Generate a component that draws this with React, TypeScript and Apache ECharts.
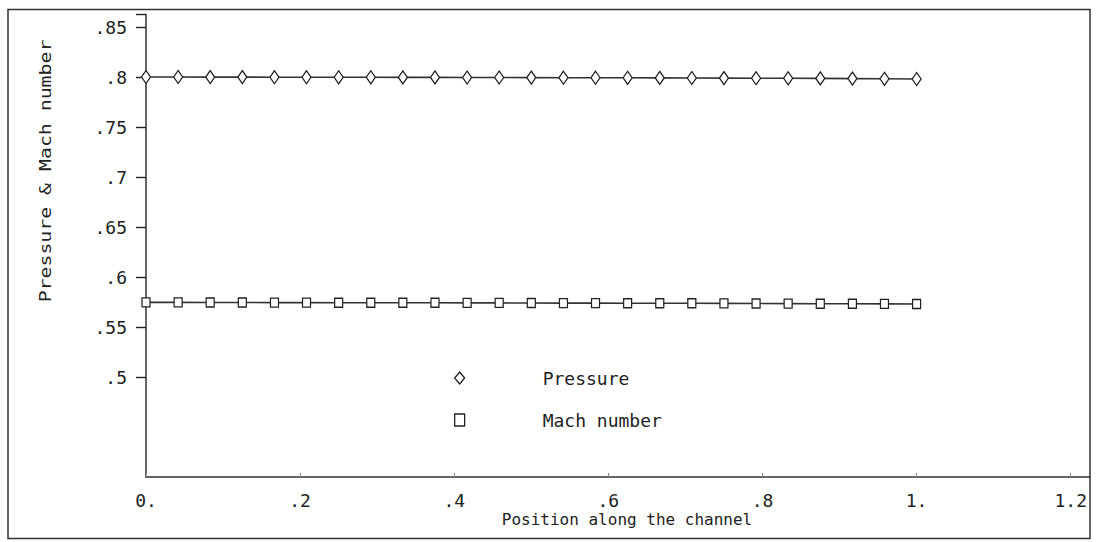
import React, { useEffect, useRef } from "react";
import * as echarts from "echarts";

const positions = [0, 0.0417, 0.0833, 0.125, 0.1667, 0.2083, 0.25, 0.2917, 0.3333, 0.375, 0.4167, 0.4583, 0.5, 0.5417, 0.5833, 0.625, 0.6667, 0.7083, 0.75, 0.7917, 0.8333, 0.875, 0.9167, 0.9583, 1.0];
const pressure = [0.8, 0.8, 0.7999, 0.7999, 0.7998, 0.7998, 0.7997, 0.7997, 0.7996, 0.7996, 0.7995, 0.7995, 0.7994, 0.7993, 0.7993, 0.7992, 0.7991, 0.799, 0.7989, 0.7988, 0.7987, 0.7986, 0.7984, 0.7982, 0.798];
const machNumber = [0.5746, 0.5746, 0.5745, 0.5745, 0.5744, 0.5744, 0.5743, 0.5743, 0.5742, 0.5742, 0.5741, 0.5741, 0.574, 0.5739, 0.5739, 0.5738, 0.5737, 0.5737, 0.5736, 0.5735, 0.5734, 0.5733, 0.5732, 0.5731, 0.573];
const xTicks = [0, 0.2, 0.4, 0.6, 0.8, 1.0, 1.2];
const yTicks = [0.5, 0.55, 0.6, 0.65, 0.7, 0.75, 0.8, 0.85];
const seriesNames = ["Pressure", "Mach number"];
const xTitle = "Position along the channel";
const yTitle = "Pressure & Mach number";

const FONT = "DejaVu Sans Mono";
const INK = "#222";

function fmt(v: number): string {
  const r = Math.round(v * 1000) / 1000;
  if (Number.isInteger(r)) return `${r}.`;
  return String(r).replace(/^0/, "");
}

export default function App() {
  const ref = useRef<HTMLDivElement>(null);
  useEffect(() => {
    document.body.style.margin = "0";
    const chart = echarts.init(ref.current!, undefined, { renderer: "svg" });
    const symStyle = { color: "#fff", borderColor: INK, borderWidth: 1.3 };
    chart.setOption({
      animation: false,
      backgroundColor: "#fff",
      grid: [
        { left: 146, right: 6, top: 14.5, bottom: 65 },
        { left: 146, right: 6, top: 14.5, bottom: 165 },
      ],
      xAxis: [
        {
          type: "value",
          gridIndex: 0,
          min: 0,
          max: 1.225,
          splitLine: { show: false },
          axisLine: { lineStyle: { color: "#333", width: 1.5 } },
          axisTick: { show: true, inside: true, length: 4, customValues: xTicks, lineStyle: { color: "#888" } },
          axisLabel: { customValues: xTicks, formatter: (v: number) => fmt(v), color: INK, fontFamily: FONT, fontSize: 18, margin: 14 },
        },
        {
          type: "value",
          gridIndex: 1,
          min: 0,
          max: 1.225,
          show: false,
        },
      ],
      yAxis: [
        {
          type: "value",
          gridIndex: 0,
          min: 0.4,
          max: 0.8625,
          splitLine: { show: false },
          axisLine: { show: true, lineStyle: { color: "#333", width: 1.5 } },
          axisTick: { show: false },
          axisLabel: { customValues: yTicks, formatter: (v: number) => fmt(v), color: INK, fontFamily: FONT, fontSize: 18, margin: 19 },
        },
        {
          type: "value",
          gridIndex: 1,
          min: 0.5,
          max: 0.8625,
          interval: 0.05,
          splitLine: { show: false },
          axisLine: { show: false },
          axisTick: { show: true, inside: false, length: 10, lineStyle: { color: "#222", width: 1.4 } },
          axisLabel: { show: true, formatter: () => "", margin: 19 },
        },
      ],
      legend: {
        orient: "vertical",
        left: 449,
        top: 364,
        itemGap: 24,
        itemWidth: 10,
        itemHeight: 12,
        selectedMode: false,
        data: [
          { name: seriesNames[0], icon: "diamond" },
          { name: seriesNames[1], icon: "rect" },
        ],
        itemStyle: symStyle,
        textStyle: { fontFamily: FONT, fontSize: 18, color: INK, padding: [0, 0, 0, 73] },
      },
      series: [
        {
          name: seriesNames[0],
          type: "line",
          xAxisIndex: 0,
          yAxisIndex: 0,
          data: positions.map((x, i) => [x, pressure[i]]),
          symbol: "diamond",
          symbolSize: [9, 13],
          showAllSymbol: true,
          itemStyle: symStyle,
          lineStyle: { color: "#333", width: 1.6 },
        },
        {
          name: seriesNames[1],
          type: "line",
          xAxisIndex: 0,
          yAxisIndex: 0,
          data: positions.map((x, i) => [x, machNumber[i]]),
          symbol: "rect",
          symbolSize: [8, 9],
          showAllSymbol: true,
          itemStyle: symStyle,
          lineStyle: { color: "#333", width: 1.6 },
        },
      ],
      graphic: [
        {
          type: "rect",
          shape: { x: 8, y: 9.5, width: 1082, height: 529 },
          style: { fill: "none", stroke: "#333", lineWidth: 1.5 },
          silent: true,
        },
        {
          type: "text",
          x: 627,
          y: 519,
          style: { text: xTitle, fontFamily: FONT, fontSize: 16, fill: INK, textAlign: "center", textVerticalAlign: "middle" },
        },
        {
          type: "text",
          x: 45,
          y: 171,
          rotation: Math.PI / 2,
          scaleX: 1.24,
          style: { text: yTitle, fontFamily: FONT, fontSize: 16, fill: INK, textAlign: "center", textVerticalAlign: "middle" },
        },
      ],
    });
    return () => chart.dispose();
  }, []);
  return <div ref={ref} style={{ width: 1096, height: 542 }} />;
}
